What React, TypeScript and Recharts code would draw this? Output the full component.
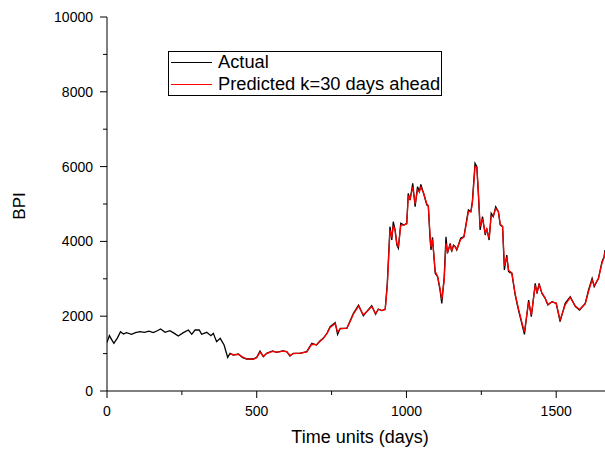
import React from "react";
import { LineChart, Line, XAxis, YAxis, Legend } from "recharts";

const days = [
  0, 8, 15, 23, 35, 45, 55, 65, 82, 95, 110, 125, 140, 155, 168, 179, 194, 210, 225, 238,
  255, 272, 283, 294, 308, 316, 333, 347, 355, 366, 378, 391, 403,
  411, 422, 439, 452, 466, 489, 500, 511, 522, 533, 553, 566, 580, 587, 600, 611, 622, 645,
  667, 684, 700, 710, 722, 735, 745, 762, 770, 779, 801, 812, 823, 840, 856, 870, 884, 897,
  906, 918, 929, 936, 945, 951, 956, 962, 968, 973, 981, 992, 1001, 1006, 1012, 1021, 1029,
  1037, 1043, 1048, 1057, 1068, 1073, 1079, 1082, 1087, 1096, 1104, 1112, 1118, 1126, 1132,
  1137, 1146, 1151, 1157, 1163, 1168, 1181, 1192, 1201, 1207, 1215, 1220, 1229, 1235, 1240,
  1246, 1254, 1263, 1268, 1276, 1283, 1290, 1298, 1307, 1313, 1321, 1327, 1335, 1341, 1352,
  1363, 1374, 1385, 1394, 1408, 1417, 1430, 1436, 1443, 1452, 1463, 1472, 1486, 1500, 1513,
  1530, 1547, 1564, 1578, 1597, 1608, 1620, 1627, 1641, 1653, 1660, 1663,
];

const actual = [
  1300, 1480, 1380, 1275, 1420, 1586, 1524, 1560, 1516, 1560, 1586, 1570, 1600, 1560, 1610, 1658, 1569, 1613, 1540, 1470,
  1560, 1631, 1516, 1631, 1631, 1516, 1569, 1480, 1542, 1318, 1408, 1230, 900,
  1007, 962, 989, 900, 856, 856, 900, 1070, 918, 1007, 1070, 1035, 1060, 1070, 1051, 936, 1007, 1007,
  1051, 1275, 1230, 1330, 1408, 1550, 1720, 1826, 1516, 1676, 1676, 1880, 2077, 2299, 2013, 2150, 2281, 2050,
  2192, 2150, 2184, 2879, 4393, 4037, 4527, 4300, 3904, 3815, 4484, 4439, 4484, 5286, 5107, 5553, 4928,
  5463, 5330, 5526, 5286, 4973, 4946, 4037, 3770, 4109, 3147, 3056, 2701, 2344, 3056, 4126,
  3681, 3949, 3725, 3900, 3859, 3770, 4082, 4126, 4572, 4840, 4795, 5062, 6088, 5998, 5286,
  4305, 4661, 4171, 4350, 4037, 4751, 4661, 4928, 4795, 4439, 4393, 3235, 3636, 3190, 3147,
  2567, 2166, 1810, 1516, 2433, 1987, 2879, 2612, 2879, 2612, 2479, 2299, 2388, 2344, 1853,
  2344, 2522, 2255, 2166, 2344, 2701, 3013, 2790, 3013, 3458, 3592, 3770,
];

const predictedDays = days.filter((d) => d >= 411);

const predicted = [
  990, 970, 980, 910, 860, 850, 890, 1040, 930, 1000, 1060, 1040, 1050, 1065, 1050, 950, 1000, 1010,
  1045, 1250, 1240, 1320, 1400, 1540, 1700, 1800, 1580, 1660, 1680, 1860, 2060, 2270, 2040, 2140, 2260, 2070,
  2180, 2150, 2180, 2800, 4300, 4100, 4420, 4300, 3950, 3850, 4430, 4440, 4470, 5200, 5130, 5450, 5000,
  5380, 5330, 5450, 5300, 5000, 4950, 4150, 3850, 4050, 3200, 3060, 2750, 2450, 2950, 3950,
  3720, 3900, 3750, 3880, 3850, 3790, 4050, 4120, 4520, 4800, 4790, 5000, 6000, 5980, 5350,
  4400, 4600, 4220, 4330, 4080, 4680, 4670, 4880, 4800, 4470, 4400, 3350, 3580, 3230, 3150,
  2600, 2200, 1850, 1580, 2380, 2030, 2820, 2640, 2840, 2630, 2490, 2320, 2380, 2350, 1900,
  2300, 2500, 2270, 2180, 2330, 2660, 2970, 2820, 3000, 3420, 3570, 3720,
];

const xTicks = [0, 250, 500, 750, 1000, 1250, 1500];
const xLabeled = [0, 500, 1000, 1500];
const yTicks = [0, 1000, 2000, 3000, 4000, 5000, 6000, 7000, 8000, 9000, 10000];
const yLabeled = [0, 2000, 4000, 6000, 8000, 10000];

const seriesNames = { actual: "Actual", predicted: "Predicted k=30 days ahead" };

const predMap = new Map<number, number>();
predictedDays.forEach((d, i) => predMap.set(d, predicted[i]));

const data = days.map((d, i) => ({
  day: d,
  actual: actual[i],
  predicted: predMap.has(d) ? predMap.get(d) : null,
}));

const FONT = "'Liberation Sans', Arial, Helvetica, sans-serif";

const XTick = (props: any) => {
  const { x, y, payload } = props;
  const major = xLabeled.includes(payload.value);
  return (
    <g>
      <line x1={x} y1={y} x2={x} y2={y + (major ? 7 : 4)} stroke="#000" strokeWidth={1} />
      {major && (
        <text x={x} y={y + 25} textAnchor="middle" fontSize={14} fontFamily={FONT} fill="#000">
          {payload.value}
        </text>
      )}
    </g>
  );
};

const YTick = (props: any) => {
  const { x, y, payload } = props;
  const major = yLabeled.includes(payload.value);
  return (
    <g>
      <line x1={x - (major ? 7 : 4)} y1={y} x2={x} y2={y} stroke="#000" strokeWidth={1} />
      {major && (
        <text x={x - 14} y={y + 5} textAnchor="end" fontSize={14} fontFamily={FONT} fill="#000">
          {payload.value}
        </text>
      )}
    </g>
  );
};

const LegendBox = (props: any) => {
  const { payload } = props;
  return (
    <div
      style={{
        position: "relative",
        width: 274,
        height: 45,
        boxSizing: "border-box",
        border: "1px solid #000",
        background: "#fff",
        fontFamily: FONT,
        fontSize: 18.3,
        color: "#000",
      }}
    >
      {(payload || []).map((entry: any, i: number) => (
        <div
          key={entry.value}
          style={{
            position: "absolute",
            left: 2,
            top: i === 0 ? -1 : 21,
            height: 22,
            lineHeight: "22px",
            display: "flex",
            alignItems: "center",
            whiteSpace: "nowrap",
          }}
        >
          <div style={{ width: 41, height: 1, background: entry.color, marginRight: 6 }} />
          <span>{entry.value}</span>
        </div>
      ))}
    </div>
  );
};

export default function App() {
  return (
    <div style={{ position: "absolute", left: 0, top: 0, width: 605, height: 451, background: "#fff" }}>
      <LineChart width={605} height={451} data={data} margin={{ top: 17, right: 0, bottom: 0, left: 0 }}>
        <XAxis
          dataKey="day"
          type="number"
          domain={[0, 1663]}
          allowDataOverflow
          ticks={xTicks}
          interval={0}
          height={60}
          tickLine={false}
          tickSize={0}
          tickMargin={0}
          axisLine={{ stroke: "#000", strokeWidth: 1 }}
          tick={<XTick />}
          label={{
            content: (p: any) => {
              const vb = p.viewBox || { x: 107, width: 498 };
              return (
                <text
                  x={vb.x + vb.width / 2 + 4}
                  y={443}
                  textAnchor="middle"
                  fontSize={18}
                  fontFamily={FONT}
                  fill="#000"
                >
                  Time units (days)
                </text>
              );
            },
          }}
        />
        <YAxis
          type="number"
          domain={[0, 10000]}
          ticks={yTicks}
          interval={0}
          width={107}
          tickLine={false}
          tickSize={0}
          tickMargin={0}
          axisLine={{ stroke: "#000", strokeWidth: 1 }}
          tick={<YTick />}
          label={{
            content: () => (
              <text
                x={25}
                y={206}
                textAnchor="middle"
                fontSize={17}
                fontFamily={FONT}
                fill="#000"
                transform="rotate(-90, 25, 206)"
              >
                BPI
              </text>
            ),
          }}
        />
        <Legend
          layout="vertical"
          align="center"
          verticalAlign="middle"
          content={<LegendBox />}
          wrapperStyle={{ position: "absolute", left: 168, top: 51, width: 274, height: 45, margin: 0 }}
        />
        <Line
          type="linear"
          dataKey="actual"
          name={seriesNames.actual}
          stroke="#000"
          strokeWidth={1.3}
          dot={false}
          activeDot={false}
          isAnimationActive={false}
        />
        <Line
          type="linear"
          dataKey="predicted"
          name={seriesNames.predicted}
          stroke="#ff0000"
          strokeWidth={1.3}
          dot={false}
          activeDot={false}
          isAnimationActive={false}
        />
      </LineChart>
    </div>
  );
}
